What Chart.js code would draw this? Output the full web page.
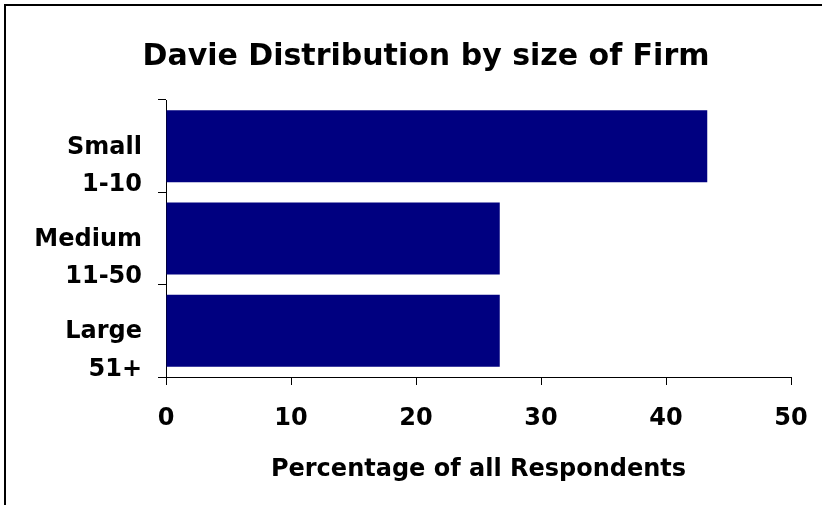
<!DOCTYPE html>
<html>
<head>
<meta charset="utf-8">
<script src="https://cdn.jsdelivr.net/npm/chart.js@4/dist/chart.umd.min.js"></script>
<style>
  html, body { margin: 0; padding: 0; background: #fff; }
  #wrap { position: relative; width: 822px; height: 505px; overflow: hidden; }
  #frame { position: absolute; left: 4px; top: 4px; width: 830px; height: 520px;
           border-left: 2px solid #000; border-top: 2px solid #000; pointer-events: none; }
  canvas { position: absolute; left: 0; top: 0; }
</style>
</head>
<body>
<div id="wrap">
  <canvas id="chart" width="822" height="505"></canvas>
  <div id="frame"></div>
</div>
<script>
// Firm size groups (two-line labels) and share of respondents in each, in %
const firmSizes = [["Small", "1-10"], ["Medium", "11-50"], ["Large", "51+"]];
const sharePercent = [43.3, 26.7, 26.7];
const axisMin = 0;
const axisMax = 50;
const axisStep = 10;

const FONT = "'DejaVu Sans', Verdana, sans-serif";

new Chart(document.getElementById('chart'), {
  type: 'bar',
  data: {
    labels: firmSizes,
    datasets: [{
      data: sharePercent,
      backgroundColor: '#000080',
      borderWidth: 0,
      barPercentage: 0.78,
      categoryPercentage: 1.0
    }]
  },
  options: {
    indexAxis: 'y',
    responsive: false,
    animation: false,
    devicePixelRatio: 1,
    layout: { padding: { left: 30, right: 0, top: 0, bottom: 0 } },
    plugins: {
      legend: { display: false },
      tooltip: { enabled: false },
      title: {
        display: true,
        text: 'Davie Distribution by size of Firm',
        color: '#000',
        font: { family: FONT, size: 30, weight: 'bold', lineHeight: 1.2 },
        padding: { top: 39, bottom: 25 }
      }
    },
    scales: {
      x: {
        type: 'linear',
        min: axisMin,
        max: axisMax,
        ticks: {
          stepSize: axisStep,
          color: '#000',
          padding: 19,
          font: { family: FONT, size: 24, weight: 'bold' }
        },
        grid: { display: true, drawOnChartArea: false, drawTicks: true, tickLength: 8, color: '#000', lineWidth: 1 },
        border: { display: true, color: '#000', width: 1 },
        title: {
          display: true,
          text: 'Percentage of all Respondents',
          color: '#000',
          font: { family: FONT, size: 24, weight: 'bold', lineHeight: 1.2 },
          padding: { top: 0, bottom: 21 }
        },
        afterFit(scale) {
          scale.height = 128;
          scale.paddingRight = 31;
        }
      },
      y: {
        type: 'category',
        ticks: {
          color: '#000',
          padding: 16,
          labelOffset: 20,
          font: { family: FONT, size: 24, weight: 'bold', lineHeight: 1.55 }
        },
        grid: { display: true, offset: true, drawOnChartArea: false, drawTicks: true, tickLength: 8, color: '#000', lineWidth: 1 },
        border: { display: true, color: '#000', width: 1 },
        afterFit(scale) {
          scale.width = 136;
        }
      }
    }
  }
});
</script>
</body>
</html>
